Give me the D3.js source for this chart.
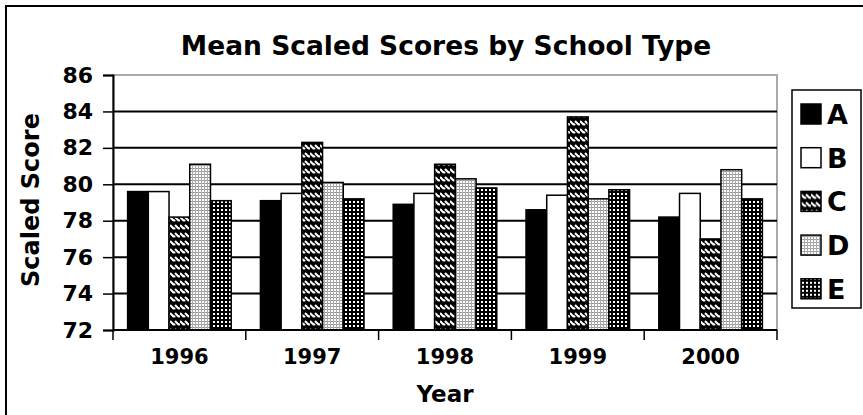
<!DOCTYPE html>
<html>
<head>
<meta charset="utf-8">
<script src="https://cdn.jsdelivr.net/npm/d3@7"></script>
<style>
  body { margin: 0; background: #fff; }
  text { font-family: "DejaVu Sans", sans-serif; font-weight: bold; }
</style>
</head>
<body>
<svg id="chart"></svg>
<script>
// data
const years = ['1996', '1997', '1998', '1999', '2000'];
const schoolTypes = ['A', 'B', 'C', 'D', 'E'];
const scoresA = [79.6, 79.1, 78.9, 78.6, 78.2];
const scoresB = [79.6, 79.5, 79.5, 79.4, 79.5];
const scoresC = [78.2, 82.3, 81.1, 83.7, 77.0];
const scoresD = [81.1, 80.1, 80.3, 79.2, 80.8];
const scoresE = [79.1, 79.2, 79.8, 79.7, 79.2];
const yTicks = [72, 74, 76, 78, 80, 82, 84, 86];

const width = 863, height = 415;
const marginLeft = 113, marginRight = 86, marginTop = 75, marginBottom = 85;

const series = [scoresA, scoresB, scoresC, scoresD, scoresE];
const data = [];
years.forEach((yr, i) => {
  schoolTypes.forEach((t, j) => {
    data.push({ year: yr, type: t, value: series[j][i] });
  });
});

const svg = d3.select('#chart')
  .attr('width', width)
  .attr('height', height);

/** PATTERNS **/
const defs = svg.append('defs');

// C - zigzag (black with white chevrons)
const pC = defs.append('pattern').attr('id', 'patC')
  .attr('patternUnits', 'userSpaceOnUse').attr('width', 10).attr('height', 8);
pC.append('rect').attr('width', 10).attr('height', 8).attr('fill', '#000');
pC.append('path').attr('d', 'M0,1 L4,5 M5,1 L9,5 M4,5 L5,4 M9,5 L10,4')
  .attr('stroke', '#fff').attr('stroke-width', 2.1).attr('fill', 'none');

// D - fine light grid
const pD = defs.append('pattern').attr('id', 'patD')
  .attr('patternUnits', 'userSpaceOnUse').attr('width', 3).attr('height', 3);
pD.append('rect').attr('width', 3).attr('height', 3).attr('fill', '#fff');
pD.append('rect').attr('width', 3).attr('height', 1).attr('fill', '#999');
pD.append('rect').attr('width', 1).attr('height', 3).attr('fill', '#aaa');

// E - black with white dots
const pE = defs.append('pattern').attr('id', 'patE')
  .attr('patternUnits', 'userSpaceOnUse').attr('width', 4).attr('height', 4);
pE.append('rect').attr('width', 4).attr('height', 4).attr('fill', '#000');
pE.append('rect').attr('x', 1).attr('y', 1).attr('width', 2).attr('height', 2).attr('fill', '#fff');

const fill = d3.scaleOrdinal()
  .domain(schoolTypes)
  .range(['#000', '#fff', 'url(#patC)', 'url(#patD)', 'url(#patE)']);

// outer frame
svg.append('rect')
  .attr('x', 6).attr('y', 6).attr('width', 900).attr('height', 450)
  .attr('fill', 'none').attr('stroke', '#000').attr('stroke-width', 2);

/** SCALES **/
const x0 = d3.scaleBand()
  .domain(years)
  .range([marginLeft, width - marginRight])
  .paddingInner(0.22)
  .paddingOuter(0.11);

const x1 = d3.scaleBand()
  .domain(schoolTypes)
  .range([0, x0.bandwidth()]);

const y = d3.scaleLinear()
  .domain([72, 86])
  .range([height - marginBottom, marginTop]);

// plot area border (gray)
svg.append('rect')
  .attr('x', marginLeft).attr('y', marginTop)
  .attr('width', width - marginRight - marginLeft)
  .attr('height', height - marginBottom - marginTop)
  .attr('fill', 'none').attr('stroke', '#aaa').attr('stroke-width', 2);

// gridlines
svg.append('g')
  .selectAll('line')
  .data(yTicks.filter((t) => t > 72 && t < 86))
  .join('line')
  .attr('x1', marginLeft).attr('x2', width - marginRight)
  .attr('y1', (d) => y(d)).attr('y2', (d) => y(d))
  .attr('stroke', '#000').attr('stroke-width', 2);

/** BARS **/
svg.append('g')
  .selectAll('rect')
  .data(data)
  .join('rect')
  .attr('x', (d) => x0(d.year) + x1(d.type))
  .attr('y', (d) => y(d.value))
  .attr('width', x1.bandwidth())
  .attr('height', (d) => y(72) - y(d.value))
  .attr('fill', (d) => fill(d.type))
  .attr('stroke', '#000')
  .attr('stroke-width', 1.5);

/** AXES **/
const yAxis = svg.append('g')
  .attr('transform', `translate(${marginLeft},0)`)
  .call(d3.axisLeft(y).tickValues(yTicks).tickSize(10).tickPadding(10));
yAxis.select('.domain').attr('stroke-width', 2);
yAxis.selectAll('.tick line').attr('stroke-width', 1.5);
yAxis.selectAll('.tick text')
  .style('font-size', '22px')
  .style('font-family', '"DejaVu Sans", sans-serif')
  .style('font-weight', 'bold')
  .attr('fill', '#000');

// x axis with ticks at category boundaries
const bounds = d3.range(years.length + 1).map((i) => marginLeft + i * x0.step());
const xAxisG = svg.append('g');
xAxisG.append('line')
  .attr('x1', marginLeft).attr('x2', bounds[bounds.length - 1])
  .attr('y1', y(72)).attr('y2', y(72))
  .attr('stroke', '#000').attr('stroke-width', 2);
xAxisG.selectAll('.bt')
  .data(bounds)
  .join('line')
  .attr('x1', (d) => d).attr('x2', (d) => d)
  .attr('y1', y(72)).attr('y2', y(72) + 10)
  .attr('stroke', '#000').attr('stroke-width', 1.5);
xAxisG.selectAll('text')
  .data(years)
  .join('text')
  .attr('x', (d) => x0(d) + x0.bandwidth() / 2)
  .attr('y', y(72) + 34)
  .attr('text-anchor', 'middle')
  .style('font-size', '21px')
  .text((d) => d);

// axis titles
svg.append('text')
  .attr('x', 445).attr('y', 402)
  .attr('text-anchor', 'middle')
  .style('font-size', '23px')
  .text('Year');

svg.append('text')
  .attr('transform', 'translate(39,200) rotate(-90)')
  .attr('text-anchor', 'middle')
  .style('font-size', '24px')
  .text('Scaled Score');

// title
svg.append('text')
  .attr('x', 446).attr('y', 55)
  .attr('text-anchor', 'middle')
  .style('font-size', '26.5px')
  .text('Mean Scaled Scores by School Type');

/** LEGEND **/
svg.append('rect')
  .attr('x', 792).attr('y', 90).attr('width', 69).attr('height', 218)
  .attr('fill', '#fff').attr('stroke', '#000').attr('stroke-width', 1.5);

const legend = svg.append('g')
  .selectAll('g')
  .data(schoolTypes)
  .join('g')
  .attr('transform', (d, i) => `translate(801,${114 + i * 43.7})`);
legend.append('rect')
  .attr('x', 0).attr('y', -10).attr('width', 20).attr('height', 20)
  .attr('fill', (d) => fill(d)).attr('stroke', '#000').attr('stroke-width', 1.5);
legend.append('text')
  .attr('x', 26).attr('y', 10)
  .style('font-size', '27px')
  .text((d) => d);
</script>
</body>
</html>
